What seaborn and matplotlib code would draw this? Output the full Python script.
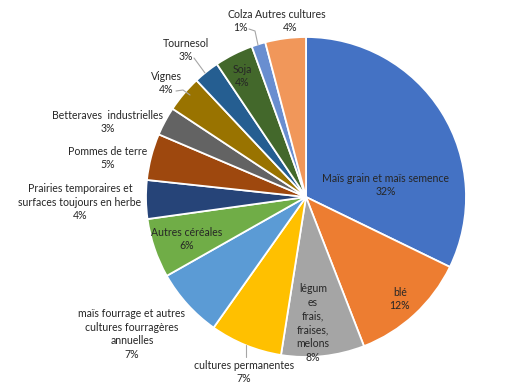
import matplotlib
matplotlib.use("Agg")
import matplotlib.pyplot as plt
import seaborn as sns

cultures = [
    "Maïs grain et maïs semence", "blé", "légum\nes\nfrais,\nfraises,\nmelons",
    "cultures permanentes", "maïs fourrage et autres\ncultures fourragères\nannuelles",
    "Autres céréales", "Prairies temporaires et\nsurfaces toujours en herbe",
    "Pommes de terre", "Betteraves  industrielles", "Vignes", "Tournesol",
    "Soja", "Colza", "Autres cultures",
]
# shares in % (labels show the rounded value)
parts = [32.2, 11.9, 8.4, 7.3, 7.0, 6.0, 3.9, 4.7, 2.9, 3.7, 2.6, 3.9, 1.4, 4.1]

office = ["#4472C4", "#ED7D31", "#A5A5A5", "#FFC000", "#5B9BD5", "#70AD47",
          "#264478", "#9E480E", "#636363", "#997300", "#255E91", "#43682B",
          "#698ED0", "#F1975A"]

# label centres in reference pixels (x, y from top), and leader line ends
label_px = [(386, 185), (400, 299), (313, 323), (244, 372), (132, 334),
            (187, 239), (80, 202), (108, 158), (108, 122), (166, 83),
            (186, 50), (242, 76), (240, 21), (290, 21)]
leaders = {3: [(246, 357), (246, 345)],
           9: [(176, 91), (183, 90), (190, 95)],
           10: [(194, 58), (205, 73)],
           12: [(249, 29), (255, 31), (258, 45)]}

CX, CY, R = 306, 197, 160


def px2data(p):
    return ((p[0] - CX) / R, (CY - p[1]) / R)


sns.set_theme(style="white")
plt.rcParams['font.family'] = ['Lato', 'DejaVu Sans']
colors = sns.color_palette(office)

fig = plt.figure(figsize=(5.28, 3.88), dpi=100)
ax = fig.add_axes([(CX - R) / 528, (388 - CY - R) / 388, 2 * R / 528, 2 * R / 388])
ax.pie(parts, colors=colors, startangle=90, counterclock=False, radius=1,
       wedgeprops=dict(edgecolor="white", linewidth=1.3))

for i, (name, val) in enumerate(zip(cultures, parts)):
    x, y = px2data(label_px[i])
    ax.text(x, y, "%s\n%.0f%%" % (name, val), ha="center", va="center",
            fontsize=7.6, color="#262626", linespacing=1.3)

for i, pts in leaders.items():
    xs, ys = zip(*[px2data(p) for p in pts])
    ax.plot(xs, ys, color="#a6a6a6", lw=0.8, clip_on=False)

ax.set_xlim(-1, 1)
ax.set_ylim(-1, 1)
ax.axis("off")
fig.savefig("out.png", dpi=100, facecolor="white")
